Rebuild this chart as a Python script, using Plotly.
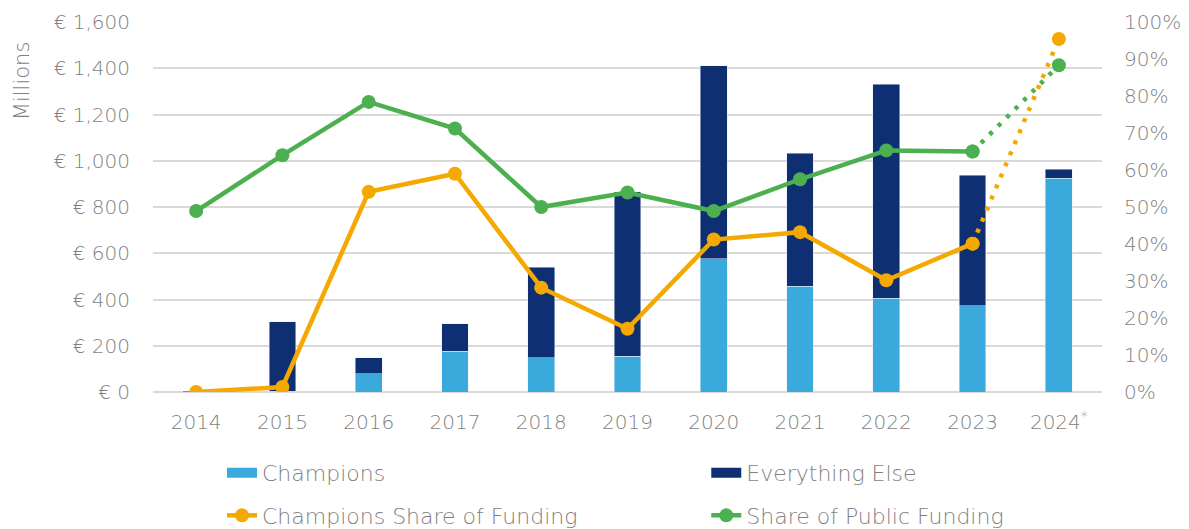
import plotly.graph_objects as go

years = ["2014", "2015", "2016", "2017", "2018", "2019", "2020", "2021", "2022", "2023", "2024<sup>*</sup>"]
champions = [0, 4, 80, 176, 148, 154, 577, 458, 406, 372, 925]
everything_else = [4, 299, 69, 120, 392, 711, 833, 575, 925, 565, 39]
champ_share = [0.0, 1.35, 54.1, 59.0, 28.2, 17.1, 41.2, 43.2, 30.2, 40.1, 95.4]
public_share = [48.9, 64.0, 78.4, 71.2, 50.0, 53.9, 48.9, 57.5, 65.3, 65.0, 88.3]

left_ticks = [0, 200, 400, 600, 800, 1000, 1200, 1400, 1600]
left_labels = ["€ 0", "€ 200", "€ 400", "€ 600", "€ 800", "€ 1,000", "€ 1,200", "€ 1,400", "€ 1,600"]
right_ticks = [0, 10, 20, 30, 40, 50, 60, 70, 80, 90, 100]
right_labels = ["0%", "10%", "20%", "30%", "40%", "50%", "60%", "70%", "80%", "90%", "100%"]

C_LIGHT = "#3aa9db"
C_DARK = "#0f2f73"
C_ORANGE = "#f5a800"
C_GREEN = "#4caf50"
GREY = "#7f7f7f"
FONT = "DejaVu Sans"
W = 200

fig = go.Figure()
fig.add_bar(x=years, y=champions, name="Champions", marker_color=C_LIGHT, width=0.31,
            showlegend=False)
fig.add_bar(x=years, y=everything_else, name="Everything Else", marker_color=C_DARK, width=0.31,
            showlegend=False)

# legend swatches for the bar series
fig.add_scatter(x=[None], y=[None], mode="lines", name="Champions",
                line=dict(color=C_LIGHT, width=14), legend="legend", legendgroup="a")
fig.add_scatter(x=[None], y=[None], mode="lines", name="Everything Else",
                line=dict(color=C_DARK, width=14), legend="legend2", legendgroup="b")

fig.add_scatter(x=years[:10], y=champ_share[:10], yaxis="y2", mode="lines+markers",
                name="Champions Share of Funding", line=dict(color=C_ORANGE, width=4.5),
                marker=dict(size=14, color=C_ORANGE), legend="legend", legendgroup="c")
fig.add_scatter(x=years[:10], y=public_share[:10], yaxis="y2", mode="lines+markers",
                name="Share of Public Funding", line=dict(color=C_GREEN, width=4.5),
                marker=dict(size=14, color=C_GREEN), legend="legend2", legendgroup="d")
fig.add_scatter(x=years[9:], y=champ_share[9:], yaxis="y2", mode="lines+markers",
                showlegend=False, line=dict(color=C_ORANGE, width=4.5, dash="4px,8px"),
                marker=dict(size=14, color=C_ORANGE))
fig.add_scatter(x=years[9:], y=public_share[9:], yaxis="y2", mode="lines+markers",
                showlegend=False, line=dict(color=C_GREEN, width=4.5, dash="4px,8px"),
                marker=dict(size=14, color=C_GREEN))

legend_common = dict(orientation="v", yanchor="top", xanchor="left",
                     font=dict(size=22, color=GREY, family=FONT, weight=W),
                     itemwidth=30, tracegroupgap=11, bgcolor="rgba(0,0,0,0)")

fig.update_layout(
    width=1181, height=521,
    margin=dict(l=145, r=87, t=14, b=137, autoexpand=False),
    paper_bgcolor="white", plot_bgcolor="white",
    barmode="stack",
    font=dict(family=FONT, color=GREY, size=19, weight=W),
    xaxis=dict(showgrid=False, showline=False, range=[-0.5, 10.5],
               tickfont=dict(size=20, color=GREY, family=FONT, weight=W),
               ticklabelstandoff=16),
    yaxis=dict(range=[0, 1600], tickmode="array", tickvals=left_ticks, ticktext=left_labels,
               showgrid=True, gridcolor="#d9d9d9", gridwidth=1.5, zeroline=True,
               zerolinecolor="#d9d9d9", zerolinewidth=1.5,
               tickfont=dict(size=20, color=GREY, family=FONT, weight=W), ticklabelstandoff=22),
    yaxis2=dict(range=[0, 100], tickmode="array", tickvals=right_ticks, ticktext=right_labels,
                overlaying="y", side="right", showgrid=False, zeroline=False,
                tickfont=dict(size=20, color=GREY, family=FONT, weight=W), ticklabelstandoff=21),
    legend=dict(x=0.0727, y=-0.162, **legend_common),
    legend2=dict(x=0.583, y=-0.162, **legend_common),
    showlegend=True,
)

fig.add_annotation(text="Millions", textangle=-90, xref="paper", yref="paper",
                   x=-0.138, y=0.84, xanchor="center", yanchor="middle",
                   showarrow=False, font=dict(size=21, color=GREY, family=FONT, weight=W))

fig.write_html("out.html")
